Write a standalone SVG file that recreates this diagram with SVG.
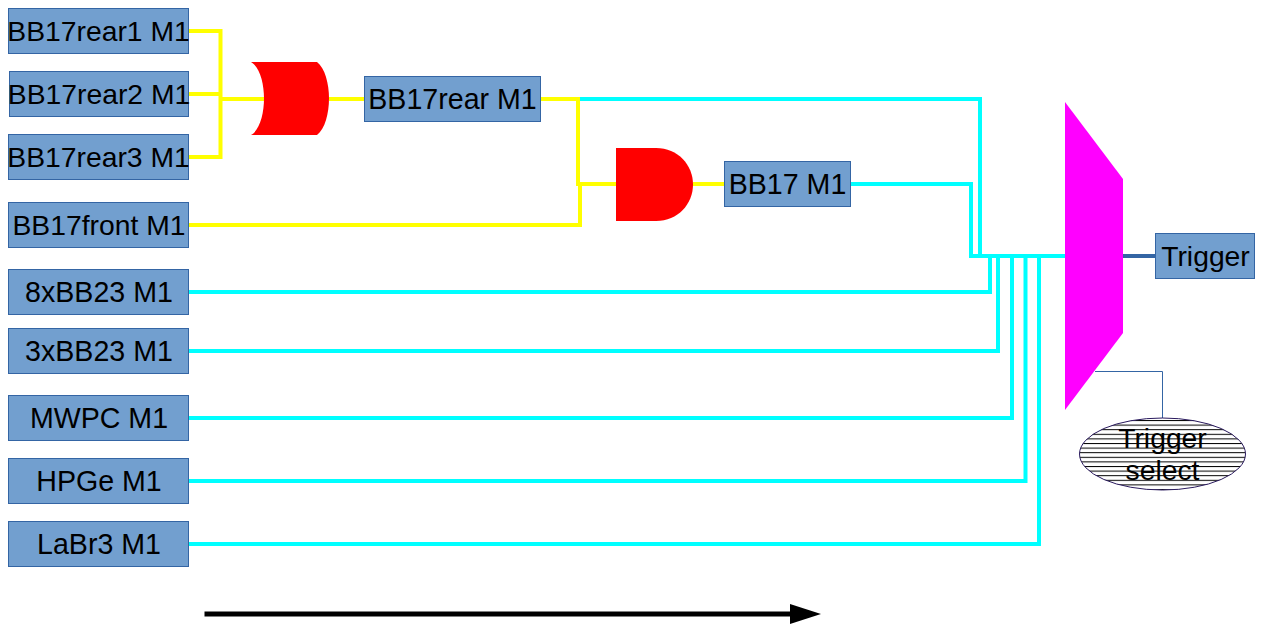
<svg xmlns="http://www.w3.org/2000/svg" width="1263" height="638" viewBox="0 0 1263 638">
<style>
.box{fill:#729fcf;stroke:#3465a4;stroke-width:1}
.lbl{font-family:"Liberation Sans",Arial,sans-serif;font-size:28.6px;fill:#000;text-anchor:middle}
.t{font-size:28.3px}
.y{fill:none;stroke:#ffff00;stroke-width:4}
.c{fill:none;stroke:#00ffff;stroke-width:4}
</style>
<defs>
<marker id="arr" markerUnits="userSpaceOnUse" markerWidth="32" markerHeight="22" refX="0" refY="10" orient="auto"><path d="M0 0L31 10L0 20Z" fill="#000"/></marker>
<pattern id="hatch" patternUnits="userSpaceOnUse" x="0" y="420" width="10" height="4.6"><rect width="10" height="1" fill="#000"/></pattern>
</defs>
<g id="connectors">
<path class="y" d="M189 31H220.500V157H189M189 94H220.500M220.500 99H264M329 99H364"/>
<path class="y" d="M541 99H580M578 99V184H616M578 184H580V225H189M693 184H724"/>
<path class="c" d="M580 99H980V256M851 184H971V256H1066"/>
<path class="c" d="M189 292H990V256M189 351H998V256M189 418H1012V256M189 481H1025.500V256M189 544H1039V256"/>
<path d="M1123 256H1155" fill="none" stroke="#3465a4" stroke-width="4"/>
<path d="M1095 371.500H1162.500V418" fill="none" stroke="#3465a4" stroke-width="1"/>
<path d="M204.500 614H790" fill="none" stroke="#000" stroke-width="5" marker-end="url(#arr)"/>
</g>
<g id="n1"><rect class="box" x="8.500" y="8.500" width="180" height="45"/><text class="lbl t" x="98.500" y="41">BB17rear1 M1</text></g>
<g id="n2"><rect class="box" x="9.500" y="71.500" width="179" height="45"/><text class="lbl t" x="99" y="104">BB17rear2 M1</text></g>
<g id="n3"><rect class="box" x="8.500" y="134.500" width="180" height="45"/><text class="lbl t" x="98.500" y="167">BB17rear3 M1</text></g>
<g id="n4"><rect class="box" x="8.500" y="202.500" width="180" height="45"/><text class="lbl t" x="99" y="235">BB17front M1</text></g>
<g id="n5"><rect class="box" x="8.500" y="269.500" width="180" height="45"/><text class="lbl" x="99" y="302">8xBB23 M1</text></g>
<g id="n6"><rect class="box" x="8.500" y="328.500" width="180" height="45"/><text class="lbl" x="99" y="361">3xBB23 M1</text></g>
<g id="n7"><rect class="box" x="8.500" y="395.500" width="180" height="45"/><text class="lbl" x="99" y="428">MWPC M1</text></g>
<g id="n8"><rect class="box" x="8.500" y="458.500" width="180" height="45"/><text class="lbl" x="99" y="491">HPGe M1</text></g>
<g id="n9"><rect class="box" x="8.500" y="521.500" width="180" height="45"/><text class="lbl" x="99" y="554">LaBr3 M1</text></g>
<g id="or"><path d="M251 62H317C325 68 329 84 329 98.500C329 113 325 129 317 135H251C260 130 264 113 264 98.500C264 84 260 67 251 62Z" fill="#ff0000"/></g>
<g id="rear"><rect class="box" x="364.500" y="76.500" width="176" height="45"/><text class="lbl" x="452.500" y="109">BB17rear M1</text></g>
<g id="and"><path d="M616 148H656C678 148 693 165 693 184.500C693 204 678 221 656 221H616Z" fill="#ff0000"/></g>
<g id="bb17"><rect class="box" x="724.500" y="161.500" width="126" height="45"/><text class="lbl" x="787.500" y="194">BB17 M1</text></g>
<g id="mux"><path d="M1065 102L1123 179V333L1065 410Z" fill="#ff00ff"/></g>
<g id="trigger"><rect class="box" x="1155.500" y="233.500" width="99" height="45"/><text class="lbl t" x="1205.500" y="266">Trigger</text></g>
<g id="select"><ellipse cx="1162.500" cy="454" rx="83" ry="36" fill="#fff"/><ellipse cx="1162.500" cy="454" rx="83" ry="36" fill="url(#hatch)" stroke="#2a1a5e" stroke-width="1"/><text class="lbl t" x="1162.500" y="448">Trigger</text><text class="lbl t" x="1162.500" y="480">select</text></g>
</svg>
